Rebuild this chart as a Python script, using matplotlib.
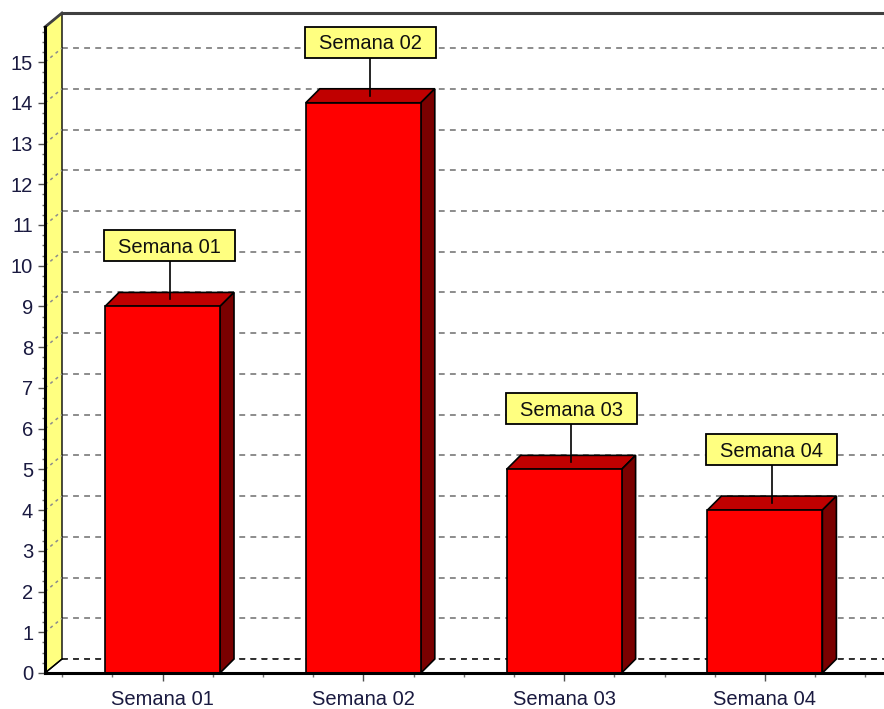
import numpy as np
import matplotlib
matplotlib.use("Agg")
import matplotlib.pyplot as plt
from matplotlib.patches import Polygon, Rectangle
from matplotlib.ticker import AutoMinorLocator, FixedLocator

# data
semanas = ["Semana 01", "Semana 02", "Semana 03", "Semana 04"]
valores = [9, 14, 5, 4]
y_ticks = list(range(0, 16))

plt.rcParams['font.family'] = ['Liberation Sans', 'DejaVu Sans']

W, H = 884, 709
fig = plt.figure(figsize=(W / 100, H / 100), dpi=100)
# front plane of the 3D box, in pixels
left_px, right_px, bottom_px, top_px = 45, 884, 673, 27
ax = fig.add_axes([left_px / W, (H - bottom_px) / H,
                   (right_px - left_px) / W, (bottom_px - top_px) / H])
ax.set_facecolor("none")

PX_X = 200.8   # pixels per category
PX_Y = 40.73   # pixels per unit
xmin = -(162.5 - left_px) / PX_X
xmax = (right_px - 162.5) / PX_X
ytop = (bottom_px - top_px) / PX_Y
ax.set_xlim(xmin, xmax)
ax.set_ylim(0, ytop)

# depths (wall and bars), converted to data units
DXW, DYW = 17 / PX_X, 14 / PX_Y
DXB, DYB = 14 / PX_X, 14 / PX_Y
far = xmax + 1

# back wall grid
for v in y_ticks:
    c = "#303030" if v == 0 else "#8c8c8c"
    ax.plot([xmin + DXW, far], [v + DYW, v + DYW], color=c, lw=1.4,
            dashes=(3, 2.7), clip_on=False, zorder=1)
    if v > 0:
        ax.plot([xmin, xmin + DXW], [v, v + DYW], color="#8c8c8c", lw=1.1,
                dashes=(2, 2.5), clip_on=False, zorder=2.5)

# back wall top border
ax.plot([xmin + DXW, far], [ytop + DYW, ytop + DYW], color="#404040", lw=2.2,
        clip_on=False, zorder=2, solid_capstyle="butt")

# left wall
wall = Polygon([(xmin, 0), (xmin, ytop), (xmin + DXW, ytop + DYW), (xmin + DXW, DYW)],
               closed=True, facecolor="#FFFF80", edgecolor="black", lw=1.0,
               clip_on=False, zorder=2)
ax.add_patch(wall)
ax.plot([xmin, xmin + DXW], [ytop, ytop + DYW], color="#404040", lw=2.0,
        clip_on=False, zorder=2.2)

# floor
floor = Polygon([(xmin, 0), (xmin + DXW, DYW), (far, DYW), (far, 0)],
                closed=True, facecolor="white", edgecolor="none", clip_on=False, zorder=1.5)
ax.add_patch(floor)
ax.plot([xmin + DXW, far], [DYW, DYW], color="#303030", lw=1.4,
        dashes=(3, 2.7), clip_on=False, zorder=1.6)
ax.plot([xmin, xmin + DXW], [0, DYW], color="black", lw=1.0, clip_on=False, zorder=2.3)

# bars
x = np.arange(len(semanas))
bw = 115 / PX_X
ax.bar(x, valores, width=bw, color="#FF0000", edgecolor="black", lw=1.2, zorder=4)
for xi, v in zip(x, valores):
    l, r = xi - bw / 2, xi + bw / 2
    top = Polygon([(l, v), (l + DXB, v + DYB), (r + DXB, v + DYB), (r, v)],
                  closed=True, facecolor="#C00000", edgecolor="black", lw=1.2, zorder=3.5)
    side = Polygon([(r, 0), (r, v), (r + DXB, v + DYB), (r + DXB, DYB)],
                   closed=True, facecolor="#7A0000", edgecolor="black", lw=1.2, zorder=3.5)
    ax.add_patch(top)
    ax.add_patch(side)

    # marks
    xc = xi + DXB / 2
    yt = v + DYB / 2
    yc = yt + 53.5 / PX_Y
    hh, hw = 15.5 / PX_Y, 65.5 / PX_X
    ax.plot([xc, xc], [yt, yc - hh], color="black", lw=1.2, zorder=5, clip_on=False)
    ax.add_patch(Rectangle((xc - hw, yc - hh), 2 * hw, 2 * hh, facecolor="#FFFF80",
                           edgecolor="black", lw=1.3, zorder=6, clip_on=False))
    ax.text(xc, yc - 7.2 / PX_Y, semanas[xi], ha="center", va="baseline",
            fontsize=14.5, color="#101010", zorder=7)

# axes
for s in ["top", "right"]:
    ax.spines[s].set_visible(False)
for s in ["left", "bottom"]:
    ax.spines[s].set_linewidth(2.2)
    ax.spines[s].set_color("black")
    ax.spines[s].set_zorder(8)

ax.set_yticks(y_ticks)
ax.yaxis.set_minor_locator(AutoMinorLocator(4))
ax.set_xticks(x, labels=semanas)
ax.xaxis.set_minor_locator(FixedLocator(np.arange(-0.5, 3.6, 0.25)))
ax.tick_params(axis="y", which="major", length=5, width=1, color="#505050",
               pad=3.5, labelsize=14.5, labelcolor="#1a1a40")
ax.tick_params(axis="y", which="minor", length=2, width=1, color="#707070")
ax.tick_params(axis="x", which="major", length=6, width=1, color="#505050",
               pad=6.5, labelsize=14.5, labelcolor="#1a1a40")
ax.tick_params(axis="x", which="minor", length=3, width=1, color="#707070")

fig.savefig("out.png", dpi=100)
